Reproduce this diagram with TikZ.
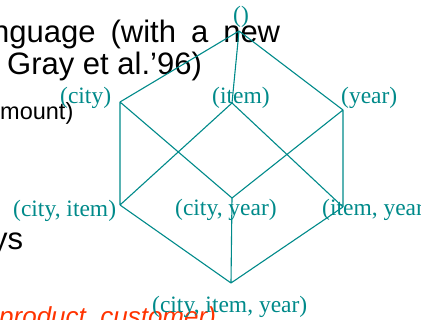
\documentclass[tikz,border=0pt]{standalone}
\usepackage{fontspec}
\setmainfont{Liberation Sans}
\newfontfamily\cubeserif{Liberation Serif}

\definecolor{cubeteal}{RGB}{0,138,138}
\definecolor{keyred}{RGB}{255,51,0}

\begin{document}
\begin{tikzpicture}[x=1pt, y=-1pt,
  slide/.style={inner sep=0pt, anchor=base west, font=\fontsize{31}{36}\selectfont},
  subslide/.style={inner sep=0pt, anchor=base west, font=\fontsize{23.5}{28}\selectfont},
  cuboid/.style={inner sep=0pt, anchor=base west, text=cubeteal, font=\cubeserif\fontsize{23.5}{28}\selectfont},
  link/.style={draw=cubeteal, line width=1.1pt}
]
\clip (0,0) rectangle (421,320);

% bullet text underneath
\node[slide] (line1) at (-8,43) {\spaceskip=15pt nguage (with a new};
\node[slide] (line2) at (7,75) {Gray et al.’96)};
\node[subslide] (line3) at (0,120) {mount)};
\node[slide] (line4) at (-8,250) {ys};
\node[slide, text=keyred, font=\itshape\fontsize{26}{30}\selectfont] (line5) at (-1,326) {product, customer)};

% lattice of cuboids
\coordinate (apex) at (239,31);
\coordinate (c) at (120,102);
\coordinate (i) at (232,103);
\coordinate (y) at (343,110);
\coordinate (ci) at (120,205);
\coordinate (cy) at (232,198);
\coordinate (iy) at (343,207);
\coordinate (ciy) at (231,283);

\node[cuboid, anchor=base] (apexlbl) at (241,23) {()};
\node[cuboid] (clbl) at (60,104) {(city)};
\node[cuboid] (ilbl) at (212,104) {(item)};
\node[cuboid] (ylbl) at (341,104) {(year)};
\node[cuboid] (cilbl) at (13,217) {(city, item)};
\node[cuboid] (cylbl) at (175,216) {(city, year)};
\node[cuboid] (iylbl) at (322,216) {(item, year)};
\node[cuboid] (ciylbl) at (152,313) {(city, item, year)};

\draw[link] (apex) -- (c) (apex) -- (i) (apex) -- (y);
\draw[link] (c) -- (ci) (c) -- (cy) (i) -- (ci) (i) -- (iy) (y) -- (cy) (y) -- (iy);
\draw[link] (ci) -- (ciy) (cy) -- (ciy) (iy) -- (ciy);

\end{tikzpicture}
\end{document}
